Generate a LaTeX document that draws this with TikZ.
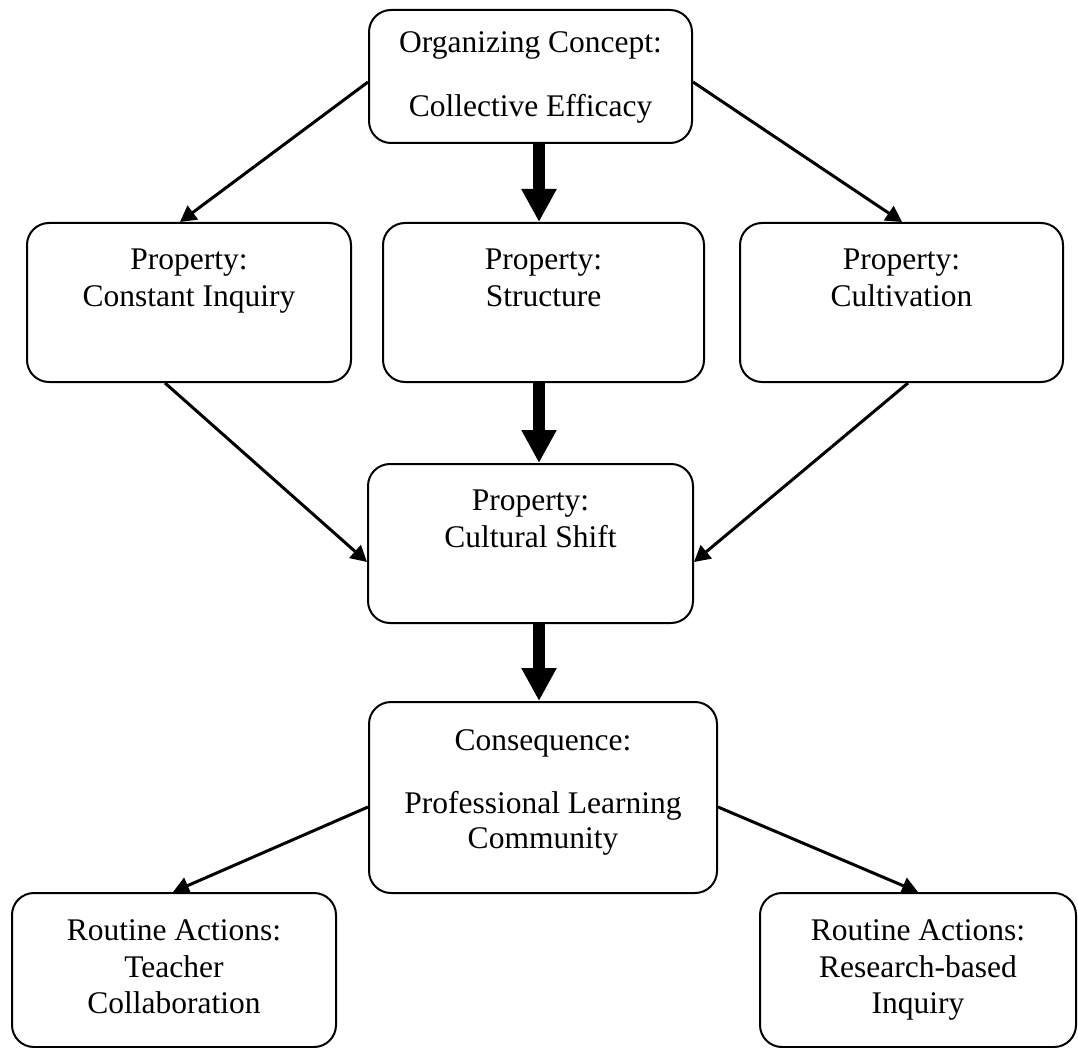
\documentclass[tikz,border=0pt]{standalone}
\usepackage{fontspec}
\setmainfont{Liberation Serif}
\usetikzlibrary{arrows.meta}
\begin{document}
\begin{tikzpicture}[x=1pt,y=-1pt,
  box/.style={draw, line width=2pt, rounded corners=22pt, inner sep=0pt},
  txt/.style={anchor=base, inner sep=0pt, font=\fontsize{31.5}{36}\selectfont},
  thinarrow/.style={line width=3pt, -{Triangle[width=17pt,length=16pt]}},
  thickarrow/.style={line width=12pt, -{Triangle[width=33pt,length=33pt]}}]
\useasboundingbox (0,0) rectangle (1078,1048);
% boxes
\node[box, minimum width=323pt, minimum height=133pt] (top) at (530.5,76.5) {};
\node[box, minimum width=324pt, minimum height=159pt] (pl) at (189,302.5) {};
\node[box, minimum width=321pt, minimum height=159pt] (pm) at (543.5,302.5) {};
\node[box, minimum width=323pt, minimum height=159pt] (pr) at (901.5,302.5) {};
\node[box, minimum width=325pt, minimum height=159pt] (cult) at (530.5,543.5) {};
\node[box, minimum width=348pt, minimum height=191pt] (cons) at (543,797.5) {};
\node[box, minimum width=324pt, minimum height=154pt] (rl) at (174,970) {};
\node[box, minimum width=316pt, minimum height=154pt] (rr) at (918,970) {};
% texts
\node[txt] (t1a) at (530.5,53) {Organizing Concept:};
\node[txt] (t1b) at (530.5,117) {Collective Efficacy};
\node[txt] (t2a) at (189,270) {Property:};
\node[txt] (t2b) at (189,307) {Constant Inquiry};
\node[txt] (t3a) at (543.5,270) {Property:};
\node[txt] (t3b) at (543.5,307) {Structure};
\node[txt] (t4a) at (901.5,270) {Property:};
\node[txt] (t4b) at (901.5,307) {Cultivation};
\node[txt] (t5a) at (530.5,510) {Property:};
\node[txt] (t5b) at (530.5,547) {Cultural Shift};
\node[txt] (t6a) at (543,750) {Consequence:};
\node[txt] (t6b) at (543,813) {Professional Learning};
\node[txt] (t6c) at (543,848) {Community};
\node[txt] (t7a) at (174,940) {Routine Actions:};
\node[txt] (t7b) at (174,977) {Teacher};
\node[txt] (t7c) at (174,1013) {Collaboration};
\node[txt] (t8a) at (918,940) {Routine Actions:};
\node[txt] (t8b) at (918,977) {Research-based};
\node[txt] (t8c) at (918,1013) {Inquiry};
% thick arrows
\draw[thickarrow] ([xshift=8.5pt]top.south) -- ([xshift=-4.5pt]pm.north);
\draw[thickarrow] ([xshift=-4.5pt]pm.south) -- ([xshift=8.5pt]cult.north);
\draw[thickarrow] ([xshift=8.5pt]cult.south) -- ([xshift=-4pt]cons.north);
% thin arrows
\draw[thinarrow] ([yshift=-5.5pt]top.west) -- ([xshift=-9pt]pl.north);
\draw[thinarrow] ([yshift=-5.5pt]top.east) -- ([xshift=0.5pt]pr.north);
\draw[thinarrow] ([xshift=-24pt]pl.south) -- ([yshift=-18.5pt]cult.west);
\draw[thinarrow] ([xshift=6.5pt]pr.south) -- ([yshift=-18.5pt]cult.east);
\draw[thinarrow] ([yshift=-9.5pt]cons.west) -- ([xshift=-1pt]rl.north);
\draw[thinarrow] ([yshift=-9.5pt]cons.east) -- (rr.north);
\end{tikzpicture}
\end{document}
